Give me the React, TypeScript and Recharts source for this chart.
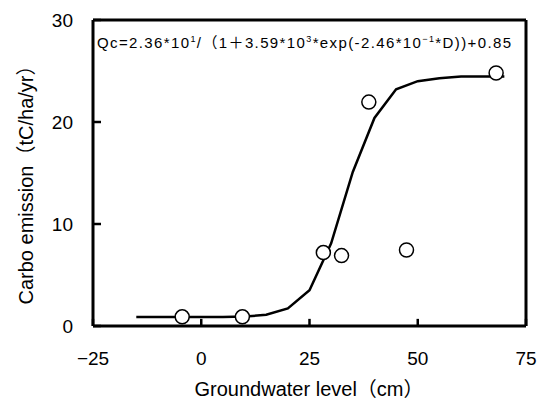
import { ComposedChart, Line, ReferenceLine, Scatter, XAxis, YAxis } from 'recharts'

// fitted curve at 5 cm steps
const curveD = [-15, -10, -5, 0, 5, 10, 15, 20, 25, 30, 35, 40, 45, 50, 55, 60, 65, 70]
const curveQ = [0.88, 0.88, 0.88, 0.88, 0.88, 0.92, 1.1, 1.72, 3.5, 8.1, 15.1, 20.4, 23.2, 24.0, 24.3, 24.45, 24.45, 24.45]

// observed points
const obsD = [-4.4, 9.5, 28.2, 32.4, 47.4, 38.7, 68.1]
const obsQ = [0.9, 0.9, 7.2, 6.9, 7.45, 21.95, 24.8]

const xTicks = [-25, 0, 25, 50, 75]
const yTicks = [0, 10, 20, 30]

const X_MIN = -25
const X_MAX = 75
const Y_MIN = 0
const Y_MAX = 30
// inward tick length, in axis units
const X_TICK_LEN = 0.7
const Y_TICK_LEN = 1.85

const curve = curveD.map((d, i) => ({ D: d, q: curveQ[i] }))
const obs = obsD.map((d, i) => ({ D: d, q: obsQ[i] }))

const FONT = '"Liberation Sans", "Noto Sans CJK JP", sans-serif'
const BLACK = '#000'

const fmt = (v: number) => (v < 0 ? `\u2212${Math.abs(v)}` : `${v}`)

function XTick({ x, y, payload }: any) {
  return (
    <text x={x} y={y + 39} textAnchor="middle" fontFamily={FONT} fontSize={19} fill={BLACK}>
      {fmt(payload.value)}
    </text>
  )
}

function YTick({ x, y, payload }: any) {
  return (
    <text x={x - 20} y={y + 7} textAnchor="end" fontFamily={FONT} fontSize={19} fill={BLACK}>
      {payload.value}
    </text>
  )
}

function Dot({ cx, cy }: any) {
  return <circle cx={cx} cy={cy} r={7} fill="#fff" stroke={BLACK} strokeWidth={1.5} />
}

export default function App() {
  return (
    <div style={{ position: 'absolute', left: 0, top: 0, width: 539, height: 400, background: '#fff' }}>
      <ComposedChart width={539} height={400} margin={{ top: 20, right: 13, bottom: 0, left: 0 }}>
        <XAxis
          dataKey="D"
          type="number"
          domain={[X_MIN, X_MAX]}
          ticks={xTicks}
          height={74}
          tickSize={0}
          tickMargin={0}
          tick={<XTick />}
          axisLine={false}
          tickLine={false}
          allowDataOverflow
          label={{
            content: () => (
              <text x={309} y={396} textAnchor="middle" fontFamily={FONT} fontSize={20} fill={BLACK}>
                Groundwater level（cm）
              </text>
            )
          }}
        />
        <YAxis
          type="number"
          domain={[Y_MIN, Y_MAX]}
          ticks={yTicks}
          width={93}
          tickSize={0}
          tickMargin={0}
          tick={<YTick />}
          axisLine={false}
          tickLine={false}
          allowDataOverflow
          label={{
            content: () => (
              <text
                x={33}
                y={180}
                transform="rotate(-90, 33, 180)"
                textAnchor="middle"
                fontFamily={FONT}
                fontSize={20}
                fill={BLACK}
              >
                Carbo emission（tC/ha/yr）
              </text>
            )
          }}
        />
        {/* inward tick marks */}
        {xTicks.map((t) => (
          <ReferenceLine
            key={`xt${t}`}
            segment={[{ x: t, y: Y_MIN }, { x: t, y: Y_MIN + X_TICK_LEN }]}
            stroke={BLACK}
            strokeWidth={2.5}
          />
        ))}
        {yTicks.map((t) => (
          <ReferenceLine
            key={`yt${t}`}
            segment={[{ x: X_MIN, y: t }, { x: X_MIN + Y_TICK_LEN, y: t }]}
            stroke={BLACK}
            strokeWidth={2.5}
          />
        ))}
        {/* plot frame */}
        <ReferenceLine x={X_MIN} stroke={BLACK} strokeWidth={3} />
        <ReferenceLine x={X_MAX} stroke={BLACK} strokeWidth={3} />
        <ReferenceLine y={Y_MIN} stroke={BLACK} strokeWidth={3} />
        <ReferenceLine y={Y_MAX} stroke={BLACK} strokeWidth={3} />
        <Line
          data={curve}
          dataKey="q"
          type="linear"
          stroke={BLACK}
          strokeWidth={2.5}
          dot={false}
          isAnimationActive={false}
        />
        <Scatter data={obs} dataKey="q" shape={<Dot />} isAnimationActive={false} />
      </ComposedChart>
      <svg width={539} height={400} style={{ position: 'absolute', left: 0, top: 0, pointerEvents: 'none' }}>
        <text x={97} y={48} fontFamily={FONT} fontSize={15} fill={BLACK} textLength={414} lengthAdjust="spacing">
          Qc=2.36*10
          <tspan fontSize={9} dy={-6}>1</tspan>
          <tspan dy={6}>/（1＋3.59*10</tspan>
          <tspan fontSize={9} dy={-6}>3</tspan>
          <tspan dy={6}>*exp(-2.46*10</tspan>
          <tspan fontSize={9} dy={-6}>−1</tspan>
          <tspan dy={6}>*D))+0.85</tspan>
        </text>
      </svg>
    </div>
  )
}
